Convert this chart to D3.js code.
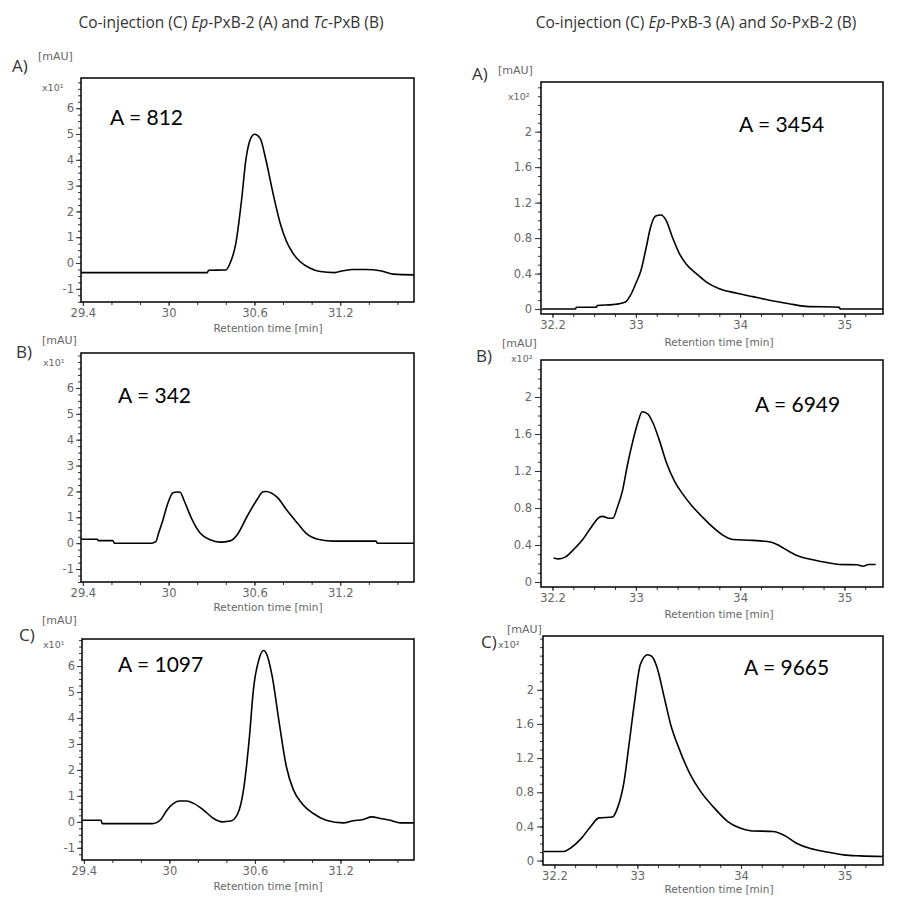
<!DOCTYPE html>
<html lang="en">
<head>
<meta charset="UTF-8" />
<title>Co-injection chromatograms</title>
<script src="https://d3js.org/d3.v7.min.js"></script>
<style>
  html, body { margin: 0; padding: 0; background: #fff; overflow: hidden; }
  svg { display: block; }
  .title { font-family: 'Open Sans', sans-serif; font-size: 15.5px; fill: #333; text-anchor: middle; }
  .tick text, .unit, .xlabel { font-family: 'DejaVu Sans', sans-serif; fill: #666; }
  .tick text { font-size: 11.5px; }
  .unit { font-size: 11px; }
  .xlabel { font-size: 10.5px; text-anchor: middle; }
  .letter { font-family: 'Open Sans', sans-serif; font-size: 17px; fill: #333; }
  .area { font-family: Lato, sans-serif; font-size: 21px; fill: #000; }
  .frame { fill: none; stroke: #000; stroke-width: 1.5px; }
  .trace { fill: none; stroke: #000; stroke-width: 1.6px; stroke-linejoin: round; }
  .tick line { stroke: #333; }
</style>
</head>
<body>
<svg id="chart" width="901" height="898"></svg>
<script>
// titles (italic parts flagged)
const titleLeft = [["Co-injection (C) ", 0], ["Ep", 1], ["-PxB-2 (A) and ", 0], ["Tc", 1], ["-PxB (B)", 0]];
const titleRight = [["Co-injection (C) ", 0], ["Ep", 1], ["-PxB-3 (A) and ", 0], ["So", 1], ["-PxB-2 (B)", 0]];

const letters = ["A)", "B)", "C)"];
const areasLeft = [812, 342, 1097];
const areasRight = [3454, 6949, 9665];

// tick values
const leftXTicks = [29.4, 30, 30.6, 31.2];
const rightXTicks = [32.2, 33, 34, 35];
const leftYTicks = [-1, 0, 1, 2, 3, 4, 5, 6];
const rightYTicks = [0, 0.4, 0.8, 1.2, 1.6, 2];

// traces [retention time (min), signal]
const leftA = [[29.387,-0.37],[30.27,-0.37],[30.28,-0.28],[30.40,-0.27],[30.43,0],[30.47,0.76],[30.51,2.44],[30.54,4.0],[30.58,4.9],[30.60,4.99],[30.64,4.83],[30.68,4.0],[30.73,2.7],[30.78,1.54],[30.82,0.89],[30.87,0.37],[30.92,0.05],[30.99,-0.2],[31.06,-0.33],[31.16,-0.37],[31.22,-0.3],[31.29,-0.25],[31.38,-0.25],[31.48,-0.3],[31.57,-0.43],[31.72,-0.46]];
const leftB = [[29.387,0.15],[29.50,0.15],[29.51,0.1],[29.61,0.1],[29.62,0],[29.88,0],[29.91,0.06],[29.93,0.39],[29.96,0.9],[29.995,1.55],[30.03,1.95],[30.06,1.98],[30.08,1.97],[30.11,1.62],[30.16,0.96],[30.22,0.39],[30.29,0.13],[30.36,0.04],[30.43,0.09],[30.48,0.33],[30.55,1.05],[30.62,1.7],[30.66,1.99],[30.68,2.0],[30.76,1.77],[30.83,1.25],[30.90,0.78],[30.96,0.39],[31.06,0.13],[31.15,0.08],[31.45,0.08],[31.46,0],[31.72,0]];
const leftC = [[29.387,0.06],[29.52,0.06],[29.53,-0.07],[29.88,-0.07],[29.94,0.09],[29.98,0.43],[30.03,0.71],[30.07,0.8],[30.12,0.8],[30.17,0.71],[30.24,0.45],[30.31,0.13],[30.37,0],[30.43,0.03],[30.48,0.32],[30.52,1.23],[30.56,3.18],[30.59,5.12],[30.63,6.29],[30.66,6.6],[30.68,6.49],[30.72,5.64],[30.77,3.83],[30.82,2.14],[30.87,1.23],[30.93,0.71],[31.01,0.32],[31.10,0.06],[31.22,-0.04],[31.29,0.04],[31.36,0.09],[31.42,0.19],[31.48,0.13],[31.55,0.06],[31.62,-0.04],[31.72,-0.04]];
const rightA = [[32.10,0],[32.42,0],[32.43,0.02],[32.62,0.02],[32.63,0.04],[32.78,0.05],[32.90,0.08],[32.95,0.16],[33.0,0.29],[33.05,0.44],[33.10,0.70],[33.14,0.92],[33.19,1.05],[33.24,1.06],[33.29,1.0],[33.35,0.81],[33.42,0.62],[33.48,0.51],[33.58,0.40],[33.67,0.31],[33.80,0.23],[33.96,0.18],[34.12,0.14],[34.28,0.10],[34.47,0.06],[34.63,0.03],[34.95,0.02],[34.96,0],[35.37,0]];
const rightB = [[32.21,0.26],[32.26,0.25],[32.33,0.275],[32.41,0.36],[32.49,0.46],[32.57,0.59],[32.65,0.70],[32.68,0.71],[32.74,0.69],[32.78,0.69],[32.82,0.80],[32.87,0.98],[32.92,1.27],[32.97,1.52],[33.02,1.73],[33.06,1.84],[33.11,1.82],[33.16,1.73],[33.22,1.55],[33.29,1.30],[33.37,1.09],[33.45,0.95],[33.54,0.82],[33.64,0.70],[33.74,0.59],[33.83,0.51],[33.93,0.46],[34.12,0.45],[34.30,0.43],[34.38,0.39],[34.47,0.33],[34.57,0.275],[34.70,0.24],[34.83,0.21],[34.95,0.19],[35.12,0.186],[35.18,0.17],[35.23,0.19],[35.30,0.19]];
const rightC = [[32.10,0.106],[32.29,0.106],[32.36,0.15],[32.46,0.26],[32.55,0.40],[32.63,0.50],[32.76,0.51],[32.81,0.62],[32.87,0.91],[32.92,1.36],[32.97,1.83],[33.03,2.30],[33.10,2.41],[33.14,2.39],[33.19,2.26],[33.26,1.91],[33.32,1.60],[33.40,1.32],[33.51,1.01],[33.61,0.81],[33.74,0.62],[33.87,0.46],[33.99,0.38],[34.09,0.35],[34.31,0.34],[34.41,0.30],[34.54,0.20],[34.67,0.14],[34.83,0.10],[34.99,0.067],[35.15,0.055],[35.37,0.047]];

const svg = d3.select("#chart");

function drawTitle(parts, cx) {
  const t = svg.append("text").attr("class", "title").attr("x", cx).attr("y", 28);
  parts.forEach(p => t.append("tspan").style("font-style", p[1] ? "italic" : "normal").text(p[0]));
}
drawTitle(titleLeft, 231);
drawTitle(titleRight, 696);

// panel layout
const L = { xDom: [29.387, 31.716], xTicks: leftXTicks, xAll: d3.range(12).map(i => +(29.4 + i * 0.2).toFixed(1)),
  yTicks: leftYTicks, yStep: 0.25, exp: "x10\u00B9", xlabCx: 268, majorLen: 5, pad: 2 };
const R = { xDom: [32.09, 35.37], xTicks: rightXTicks, xAll: d3.range(16).map(i => +(32.2 + i * 0.2).toFixed(1)),
  yTicks: rightYTicks, yStep: 0.1, exp: "x10\u00B2", xlabCx: 719, majorLen: 6, pad: 3 };

const panels = [
  { s: L, data: leftA, letter: letters[0], area: areasLeft[0], x0: 81, x1: 414, y0: 78, y1: 302, yDom: [-1.51, 7.17],
    lx: 12, ly: 72, ux: 38, uy: 60, ex: 42, ey: 91, ax: 110, ay: 125, xl: 30 },
  { s: L, data: leftB, letter: letters[1], area: areasLeft[1], x0: 81, x1: 414, y0: 353, y1: 582, yDom: [-1.50, 7.35],
    lx: 16, ly: 358, ux: 42, uy: 344, ex: 43, ey: 366, ax: 118, ay: 403, xl: 29 },
  { s: L, data: leftC, letter: letters[2], area: areasLeft[2], x0: 82, x1: 414, y0: 639, y1: 860, yDom: [-1.47, 7.04],
    lx: 19, ly: 641, ux: 42, uy: 624, ex: 43, ey: 648, ax: 118, ay: 672, xl: 30 },
  { s: R, data: rightA, letter: letters[0], area: areasRight[0], x0: 541, x1: 883, y0: 82, y1: 314, yDom: [-0.056, 2.56],
    lx: 472, ly: 80, ux: 498, uy: 74, ex: 508, ey: 100, ax: 739, ay: 132, xl: 32 },
  { s: R, data: rightB, letter: letters[1], area: areasRight[1], x0: 541, x1: 883, y0: 360, y1: 587, yDom: [-0.054, 2.40],
    lx: 476, ly: 362, ux: 502, uy: 347, ex: 511, ey: 362, ax: 755, ay: 412, xl: 31 },
  { s: R, data: rightC, letter: letters[2], area: areasRight[2], x0: 543, x1: 883, y0: 636, y1: 865, yDom: [-0.052, 2.63],
    lx: 481, ly: 648, ux: 507, uy: 633, ex: 498, ey: 648, ax: 744, ay: 675, xl: 28 }
];

panels.forEach((p, i) => {
  const s = p.s;
  const x = d3.scaleLinear().domain(s.xDom).range([p.x0, p.x1]);
  const y = d3.scaleLinear().domain(p.yDom).range([p.y1, p.y0]);
  const g = svg.append("g");

  // minor + major y ticks
  const yMinor = d3.range(Math.ceil(p.yDom[0] / s.yStep), Math.floor(p.yDom[1] / s.yStep) + 1)
    .map(k => +(k * s.yStep).toFixed(3));
  g.append("g").attr("transform", `translate(${p.x0},0)`)
    .call(d3.axisLeft(y).tickValues(yMinor).tickSize(3).tickFormat(""))
    .call(a => a.select(".domain").remove());
  g.append("g").attr("transform", `translate(${p.x0},0)`)
    .call(d3.axisLeft(y).tickValues(s.yTicks).tickSize(s.majorLen).tickPadding(s.pad).tickFormat(d => String(d)))
    .call(a => a.select(".domain").remove());

  // x ticks
  g.append("g").attr("transform", `translate(0,${p.y1})`)
    .call(d3.axisBottom(x).tickValues(s.xAll).tickSize(3).tickFormat(""))
    .call(a => a.select(".domain").remove());
  g.append("g").attr("transform", `translate(0,${p.y1})`)
    .call(d3.axisBottom(x).tickValues(s.xTicks).tickSize(4).tickPadding(3).tickFormat(d => String(d)))
    .call(a => a.select(".domain").remove());

  g.append("text").attr("class", "xlabel").attr("x", s.xlabCx).attr("y", p.y1 + p.xl).text("Retention time [min]");

  // trace
  const cid = "clip" + i;
  svg.append("clipPath").attr("id", cid).append("rect")
    .attr("x", p.x0).attr("y", p.y0).attr("width", p.x1 - p.x0).attr("height", p.y1 - p.y0);
  const line = d3.line().x(d => x(d[0])).y(d => y(d[1])).curve(d3.curveMonotoneX);
  g.append("path").attr("class", "trace").attr("clip-path", `url(#${cid})`).attr("d", line(p.data));

  g.append("rect").attr("class", "frame")
    .attr("x", p.x0).attr("y", p.y0).attr("width", p.x1 - p.x0).attr("height", p.y1 - p.y0);

  // labels
  g.append("text").attr("class", "letter").attr("x", p.lx).attr("y", p.ly).text(p.letter);
  g.append("text").attr("class", "unit").attr("x", p.ux).attr("y", p.uy).text("[mAU]");
  g.append("text").attr("class", "unit").attr("x", p.ex).attr("y", p.ey).style("font-size", "9.5px").text(s.exp);
  g.append("text").attr("class", "area").attr("x", p.ax).attr("y", p.ay).text("A = " + p.area);
});
</script>
</body>
</html>
